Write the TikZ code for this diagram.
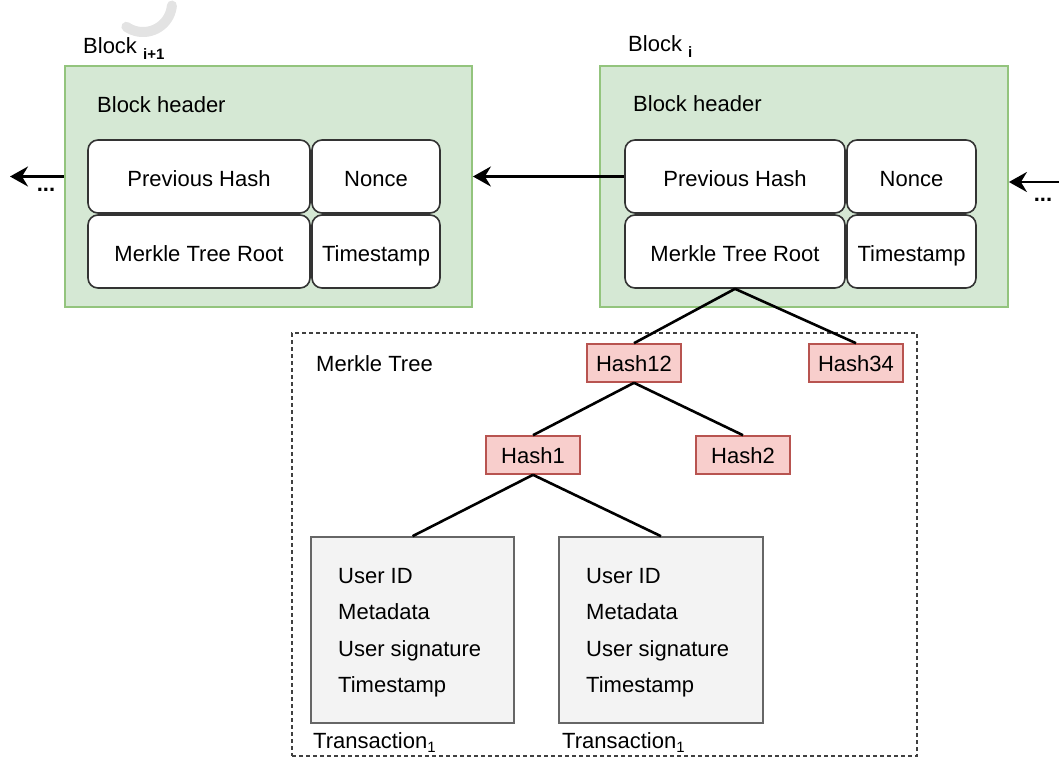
\documentclass[tikz,border=0pt]{standalone}
\usepackage{fontspec}
\setmainfont{Liberation Sans}
\usetikzlibrary{arrows.meta}

\definecolor{blkfill}{HTML}{D5E8D4}
\definecolor{blkline}{HTML}{93C47D}
\definecolor{hashfill}{HTML}{F8CECC}
\definecolor{hashline}{HTML}{B85450}
\definecolor{txfill}{HTML}{F3F3F3}
\definecolor{txline}{HTML}{666666}

% lowered, smaller index after a word
\newcommand\lowidx[1]{\raisebox{-6pt}{\fontsize{15}{15}\selectfont\bfseries #1}}

\begin{document}
\begin{tikzpicture}[x=1pt,y=-1pt,
  font=\fontsize{22}{26}\selectfont,
  blockbox/.style={draw=blkline, fill=blkfill, line width=1.8pt, inner sep=0pt,
                   minimum height=241pt},
  field/.style={draw=black!80, fill=white, rounded corners=10pt, line width=1.6pt,
                minimum height=73pt, inner sep=0pt, text height=19pt, text depth=0pt},
  hashbox/.style={draw=hashline, fill=hashfill, line width=1.6pt,
                  minimum width=94pt, minimum height=38pt, inner sep=0pt,
                  text height=17pt, text depth=0pt},
  txbox/.style={draw=txline, fill=txfill, line width=1.6pt,
                minimum height=186pt, inner sep=0pt},
  plain/.style={inner sep=0pt, anchor=base west},
  link/.style={line width=2.6pt, black},
  chain/.style={line width=2.8pt, -{Stealth[length=18pt,width=20pt,inset=6pt]}},
]
\useasboundingbox (0,0) rectangle (1059,758);

% faint ring in the top-left corner
\draw[line width=10pt, black!11, line cap=round]
  plot[domain=5:125, samples=40] ({143+29*cos(\x)}, {3+29*sin(\x)});

% ---------- block i+1 ----------
\node[plain] (b1lab) at (83,53) {Block \lowidx{i+1}};
\node[blockbox, minimum width=407pt] (blk1) at (268.5,186.5) {};
\node[plain] (b1hdr) at (97,112) {Block header};
\node[field, minimum width=222pt] (ph1) at (199,176.5) {Previous Hash};
\node[field, minimum width=128pt] (no1) at (376,176.5) {Nonce};
\node[field, minimum width=222pt] (mr1) at (199,251.5) {Merkle Tree Root};
\node[field, minimum width=128pt] (ts1) at (376,251.5) {Timestamp};

% ---------- block i ----------
\node[plain] (b2lab) at (628,51) {Block \lowidx{i}};
\node[blockbox, minimum width=408pt] (blk2) at (804,186.5) {};
\node[plain] (b2hdr) at (633,111) {Block header};
\node[field, minimum width=220pt] (ph2) at (735,176.5) {Previous Hash};
\node[field, minimum width=129pt] (no2) at (911.5,176.5) {Nonce};
\node[field, minimum width=220pt] (mr2) at (735,251.5) {Merkle Tree Root};
\node[field, minimum width=129pt] (ts2) at (911.5,251.5) {Timestamp};

% ---------- chain links ----------
\coordinate (lend) at (10,176.5);
\coordinate (rstart) at (1062,182);
\draw[chain] (ph1 -| blk1.west) -- (lend);
\draw[chain] (ph2.west) -- (ph2 -| blk1.east);
\draw[chain] (rstart) -- (rstart -| blk2.east);
\node[inner sep=0pt, font=\fontsize{22}{26}\selectfont\bfseries] (ldots) at (46,190) {...};
\node[inner sep=0pt, font=\fontsize{22}{26}\selectfont\bfseries] (rdots) at (1043,200) {...};

% ---------- merkle tree ----------
\node[draw=black!75, dash pattern=on 4pt off 3pt, line width=1.3pt,
      minimum width=625pt, minimum height=423pt, inner sep=0pt] (mtframe) at (604.5,544.5) {};
\node[plain] (mtlab) at (316,371) {Merkle Tree};

\node[hashbox] (h12) at (634,363) {Hash12};
\node[hashbox] (h34) at (856,363) {Hash34};
\node[hashbox] (h1)  at (533,455) {Hash1};
\node[hashbox] (h2)  at (743,455) {Hash2};

\node[txbox, minimum width=203pt] (tx1) at (412.5,630) {};
\node[txbox, minimum width=204pt] (tx2) at (661,630) {};
\foreach \t [count=\k] in {User ID, Metadata, User signature, Timestamp} {
  \node[plain] (tx1l\k) at (338,{583.3+36.5*(\k-1)}) {\t};
  \node[plain] (tx2l\k) at (586,{583.3+36.5*(\k-1)}) {\t};
}
\node[plain] (tx1lab) at (313,748) {Transaction\raisebox{-4pt}{\fontsize{15}{15}\selectfont 1}};
\node[plain] (tx2lab) at (562,748) {Transaction\raisebox{-4pt}{\fontsize{15}{15}\selectfont 1}};

\draw[link] (mr2.south) -- (h12.north);
\draw[link] (mr2.south) -- (h34.north);
\draw[link] (h12.south) -- (h1.north);
\draw[link] (h12.south) -- (h2.north);
\draw[link] (h1.south) -- (tx1.north);
\draw[link] (h1.south) -- (tx2.north);
\end{tikzpicture}
\end{document}
